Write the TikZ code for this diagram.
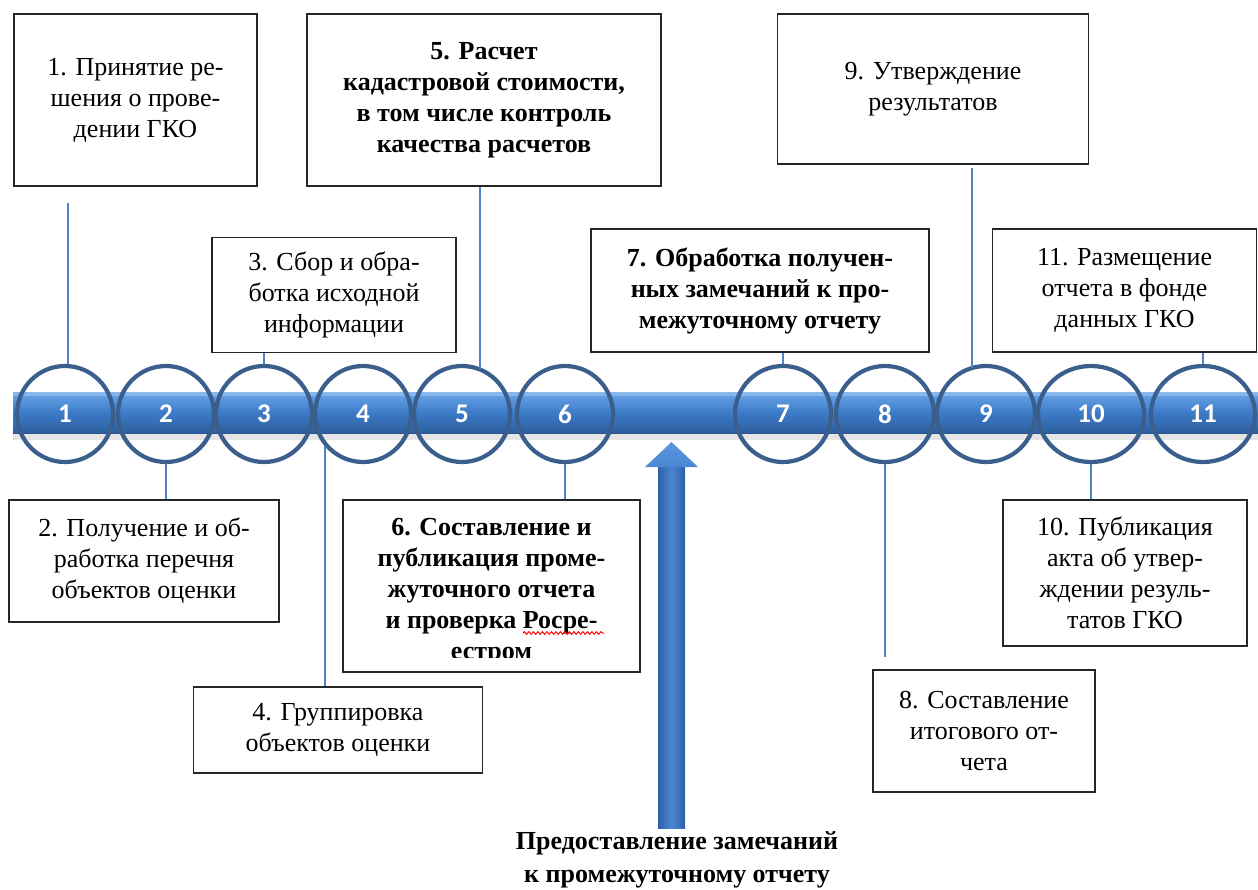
\documentclass[tikz,border=0pt]{standalone}
\usepackage{fontspec}
\setmainfont{Liberation Serif}[BoldFont={Liberation Serif Bold}]
\newfontfamily\numfont{Carlito}
\usetikzlibrary{shapes.geometric,decorations.pathmorphing}
\definecolor{ringcol}{HTML}{3A5F8D}
\definecolor{conncol}{HTML}{4F82C9}
\definecolor{bartop}{HTML}{6AA6EA}
\definecolor{barmid}{HTML}{3C7BC8}
\definecolor{barbot}{HTML}{2D5F9F}
\definecolor{arrside}{HTML}{2E60A8}
\definecolor{arrmid}{HTML}{4A86D2}
\definecolor{arrhead}{HTML}{5B98DF}
\tikzset{
  box/.style={draw=black!85, line width=1.8pt, inner sep=0pt, align=center,
    font=\rmfamily\fontsize{26}{31}\selectfont},
  boldbox/.style={box, font=\rmfamily\fontsize{26}{31}\selectfont\bfseries},
  ring/.style={ellipse, draw=ringcol, line width=4.2pt, minimum height=96pt,
    minimum width=96pt, inner sep=0pt, text=white,
    font=\numfont\bfseries\fontsize{27}{27}\selectfont},
  conn/.style={draw=conncol, line width=1.6pt},
}
\begin{document}
\begin{tikzpicture}[x=1pt,y=-1pt]
\useasboundingbox (0,0) rectangle (1258,889);
% bar
\shade[top color=bartop, bottom color=barbot, middle color=barmid] (13,392) rectangle (1258,433);
\fill[bartop!60!white, opacity=0.5] (13,392) rectangle (1258,396);
\fill[black, opacity=0.10] (13,433) rectangle (1258,440);
% rings
\node[ring] (c1) at (65,414) {1};
\node[ring] (c2) at (166,414) {2};
\node[ring] (c3) at (264,414) {3};
\node[ring] (c4) at (363,414) {4};
\node[ring] (c5) at (462,414) {5};
\node[ring] (c6) at (565,414) {6};
\node[ring] (c7) at (783,414) {7};
\node[ring, minimum width=98pt] (c8) at (885,414) {8};
\node[ring, minimum width=98pt] (c9) at (986,414) {9};
\node[ring, minimum width=106pt] (c10) at (1091,414) {10};
\node[ring, minimum width=104pt] (c11) at (1203,414) {11};
% top boxes
\node[box, minimum width=243pt, minimum height=172pt] (b1) at (135.5,100)
  {1. Принятие ре-\\шения о прове-\\дении ГКО};
\node[boldbox, minimum width=354pt, minimum height=172pt] (b5) at (484,100)
  {5. Расчет\\кадастровой стоимости,\\в том числе контроль\\качества расчетов};
\node[box, minimum width=311pt, minimum height=150pt] (b9) at (933,89)
  {9. Утверждение\\результатов};
\node[box, minimum width=244pt, minimum height=115pt] (b3) at (334,295)
  {3. Сбор и обра-\\ботка исходной\\информации};
\node[boldbox, minimum width=338pt, minimum height=123pt] (b7) at (760,290.5)
  {7. Обработка получен-\\ных замечаний к про-\\межуточному отчету};
\node[box, minimum width=264pt, minimum height=123pt] (b11) at (1124.5,290.5)
  {11. Размещение\\отчета в фонде\\данных ГКО};
% bottom boxes
\node[box, minimum width=270pt, minimum height=122pt] (b2) at (144,561)
  {2. Получение и об-\\работка перечня\\объектов оценки};
\node[box, minimum width=289pt, minimum height=86pt] (b4) at (338,730)
  {4. Группировка\\объектов оценки};
\node[box, minimum width=222pt, minimum height=122pt] (b8) at (984,731)
  {8. Составление\\итогового от-\\чета};
\node[box, minimum width=244pt, minimum height=146pt] (b10) at (1125,573)
  {10. Публикация\\акта об утвер-\\ждении резуль-\\татов ГКО};
\node[box, minimum width=297pt, minimum height=172pt] (b6) at (491.5,586) {};
\begin{scope}
\clip (343,500) rectangle (640,657);
\node[align=center, inner sep=0pt, font=\rmfamily\fontsize{26}{31}\selectfont\bfseries] (t6) at (491.5,592)
  {6. Составление и\\публикация проме-\\жуточного отчета\\и проверка Росре-\\естром};
\end{scope}
\draw[red, line width=1pt, decorate, decoration={snake, amplitude=1.3pt, segment length=4.5pt}]
  (523,633) -- (604,633);
% connectors
\coordinate (e1) at (68,203);
\draw[conn] (e1 |- c1.north) -- (e1);
\draw[conn] (c2.south) -- (c2.south |- b2.north);
\draw[conn] (c3.north |- b3.south) -- (c3.north);
\coordinate (s4) at (325,446);
\draw[conn] (s4) -- (s4 |- b4.north);
\coordinate (s5) at (480,369);
\draw[conn] (s5) -- (s5 |- b5.south);
\draw[conn] (c6.south) -- (c6.south |- b6.north);
\draw[conn] (c7.north |- b7.south) -- (c7.north);
\coordinate (e8) at (885,657);
\draw[conn] (c8.south) -- (e8);
\coordinate (s9) at (972,368);
\coordinate (e9) at (972,168);
\draw[conn] (s9) -- (e9);
\draw[conn] (c10.south) -- (c10.south |- b10.north);
\draw[conn] (c11.north |- b11.south) -- (c11.north);
% big arrow
\shade[left color=arrside, right color=arrside, middle color=arrmid]
  (658,828) rectangle (685,466);
\shade[top color=arrhead, bottom color=arrmid]
  (645,467) -- (671.5,442) -- (698,467) -- cycle;
\node[align=center, inner sep=0pt, font=\rmfamily\fontsize{26}{33}\selectfont\bfseries] (lbl) at (677,860)
  {Предоставление замечаний\\к промежуточному отчету};
\end{tikzpicture}
\end{document}
